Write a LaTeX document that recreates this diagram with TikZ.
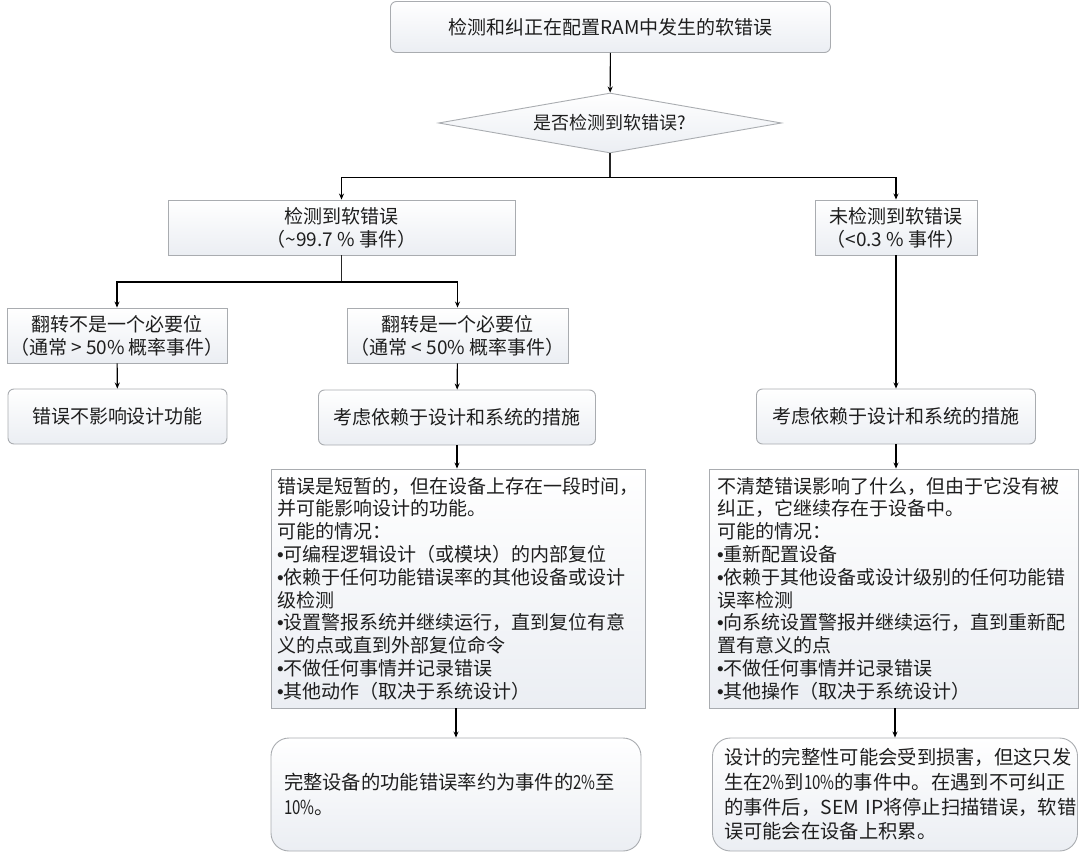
\documentclass[tikz,border=0pt]{standalone}
\usepackage{fontspec}
\setmainfont{Noto Sans CJK SC}
\newfontfamily\bulfont{Liberation Sans}
\newfontfamily\narrowfont{Noto Sans CJK SC}[FakeStretch=0.78]
\newcommand\bl{{\bulfont •}}
\newcommand\nd[1]{{\narrowfont #1}}
\usetikzlibrary{shapes.geometric,arrows.meta}
\definecolor{bordc}{HTML}{A9ACB0}
\definecolor{fillb}{HTML}{EBEEF3}
\definecolor{txt}{HTML}{1E1E1E}
\begin{document}
\begin{tikzpicture}[x=1pt,y=-1pt,
  base/.style={draw=bordc, line width=0.9pt, top color=white, bottom color=fillb,
    text=txt, inner sep=0pt, font=\fontsize{19}{23}\selectfont, align=center},
  sqbox/.style={base, rectangle},
  rbox/.style={base, rectangle, rounded corners=6pt},
  bigr/.style={base, rectangle, rounded corners=18pt},
  conn/.style={line width=1.1pt, draw=black, -{Stealth[length=6pt,width=5pt]}},
  branch/.style={line width=1.4pt, draw=black!85}
]
\useasboundingbox (0,0) rectangle (1080,853);

\node[rbox, minimum width=440pt, minimum height=51pt] (top) at (610.5,27) {检测和纠正在配置RAM中发生的软错误};
\node[base, diamond, aspect=5.7, minimum width=343pt, minimum height=60pt, font=\fontsize{18}{22}\selectfont] (dia) at (610,123) {是否检测到软错误?};

\node[sqbox, minimum width=347pt, minimum height=55pt] (A) at (341.5,227.5) {检测到软错误\\（\textasciitilde99.7 \% 事件）};
\node[sqbox, minimum width=162pt, minimum height=55pt] (B) at (896,227.5) {未检测到软错误\\（<0.3 \% 事件）};

\node[sqbox, minimum width=220pt, minimum height=55pt] (C) at (117,335.5) {翻转不是一个必要位\\（通常 > 50\% 概率事件）};
\node[sqbox, minimum width=221pt, minimum height=55pt] (D) at (457.5,335.5) {翻转是一个必要位\\（通常 < 50\% 概率事件）};

\node[rbox, minimum width=219pt, minimum height=55pt] (E) at (117.5,416.5) {错误不影响设计功能};
\node[rbox, minimum width=277pt, minimum height=55pt] (F) at (457,417.5) {考虑依赖于设计和系统的措施};
\node[rbox, minimum width=279pt, minimum height=55pt] (G) at (896,416.5) {考虑依赖于设计和系统的措施};

\node[sqbox, align=left, text width=362pt, inner xsep=6pt, minimum height=239pt, font=\fontsize{19}{22.8}\selectfont] (H) at (458,588.5) {错误是短暂的，但在设备上存在一段时间，\\并可能影响设计的功能。\\可能的情况：\\\bl 可编程逻辑设计（或模块）的内部复位\\\bl 依赖于任何功能错误率的其他设备或设计\\级检测\\\bl 设置警报系统并继续运行，直到复位有意\\义的点或直到外部复位命令\\\bl 不做任何事情并记录错误\\\bl 其他动作（取决于系统设计）};
\node[sqbox, align=left, text width=353pt, inner xsep=8pt, minimum height=239pt, font=\fontsize{19}{22.8}\selectfont] (I) at (893.5,588.5) {不清楚错误影响了什么，但由于它没有被\\纠正，它继续存在于设备中。\\可能的情况：\\\bl 重新配置设备\\\bl 依赖于其他设备或设计级别的任何功能错\\误率检测\\\bl 向系统设置警报并继续运行，直到重新配\\置有意义的点\\\bl 不做任何事情并记录错误\\\bl 其他操作（取决于系统设计）};

\node[bigr, align=left, text width=344pt, inner xsep=13pt, minimum height=113pt, font=\fontsize{19.3}{24.7}\selectfont] (J) at (456,794.5) {完整设备的功能错误率约为事件的\nd{2\%}至\\\nd{10\%}。};
\node[bigr, align=left, text width=342pt, inner xsep=11.5pt, minimum height=113pt, font=\fontsize{19.3}{24.7}\selectfont] (K) at (895,794.5) {设计的完整性可能会受到损害，但这只发\\生在\nd{2\%}到\nd{10\%}的事件中。在遇到不可纠正\\的事件后，SEM~IP将停止扫描错误，软错\\误可能会在设备上积累。};

\draw[conn] (top) -- (dia);
\draw[branch] (dia.south) -- ++(0,24) coordinate (br1);
\draw[conn, line width=1.3pt] (br1) -| (A.north);
\draw[conn, line width=1.3pt] (br1) -| (B.north);
\draw[branch] (A.south) -- ++(0,26.5) coordinate (br2);
\draw[conn, line width=1.3pt] (br2) -| (C.north);
\draw[conn, line width=1.3pt] (br2) -| (D.north);
\draw[conn] (C) -- (E);
\draw[conn] (D) -- (F);
\draw[conn] (B) -- (G);
\draw[conn] (F.south) -- (F.south |- H.north);
\draw[conn] (G.south) -- (G.south |- I.north);
\draw[conn] (H.south -| J.north) -- (J.north);
\draw[conn] (I.south -| K.north) -- (K.north);
\end{tikzpicture}
\end{document}
